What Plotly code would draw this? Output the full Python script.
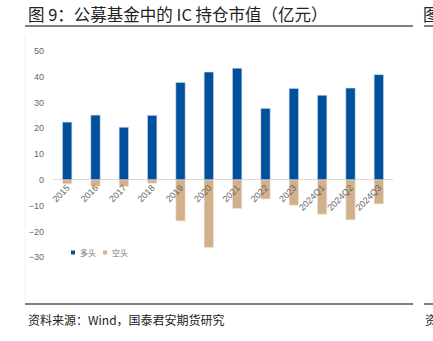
import plotly.graph_objects as go

categories = ["2015", "2016", "2017", "2018", "2019", "2020", "2021",
              "2022", "2023", "2024Q1", "2024Q2", "2024Q3"]
long_vals = [22.4, 25.1, 20.4, 25.0, 37.8, 41.8, 43.3, 27.7, 35.4, 32.8, 35.6, 40.8]
short_vals = [-1.5, -2.5, -2.5, -1.3, -15.9, -26.2, -11.1, -7.4, -9.8, -13.3, -15.5, -9.3]
y_ticks = [50, 40, 30, 20, 10, 0, -10, -20, -30]
series_names = ["多头", "空头"]

BLUE = "#00509D"
TAN = "#D2B08C"
GRAY = "#666666"
CJK = "Noto Sans CJK SC"

y_min, y_max = -45, 55
W, H = 433, 341
ML, MR, MT, MB = 53, 40, 38, 45

fig = go.Figure()
fig.add_trace(go.Bar(x=categories, y=long_vals, name=series_names[0], width=0.33,
                     marker=dict(color=BLUE, line=dict(color="#C9D8EA", width=0.6))))
fig.add_trace(go.Bar(x=categories, y=short_vals, name=series_names[1], width=0.33,
                     marker=dict(color=TAN, line=dict(color="#F1E4D6", width=0.6))))

fig.update_layout(
    width=W, height=H,
    margin=dict(l=ML, r=MR, t=MT, b=MB),
    paper_bgcolor="white", plot_bgcolor="white",
    barmode="relative",
    showlegend=False,
    xaxis=dict(type="category", range=[-0.5, 11.5], anchor="free",
               position=(0 - y_min) / (y_max - y_min),
               tickangle=-45, showgrid=False, showline=False, ticks="",
               tickfont=dict(family="Liberation Sans", size=9, color=GRAY)),
    yaxis=dict(range=[y_min, y_max], tickvals=y_ticks, showgrid=False,
               showline=False, zeroline=True, zerolinecolor="#D9D9D9", zerolinewidth=1,
               ticklabelstandoff=8,
               tickfont=dict(family="Liberation Sans", size=9, color=GRAY)),
)

# helpers: page pixels -> paper coordinates
def px_x(x):
    return (x - ML) / (W - ML - MR)

def px_y(y):
    return (H - MB - y) / (H - MT - MB)

# compact legend: small swatch followed closely by its label
for name, color, sx in zip(series_names, [BLUE, TAN], [73, 105]):
    fig.add_shape(type="rect", xref="paper", yref="paper",
                  x0=px_x(sx - 2), x1=px_x(sx + 2), y0=px_y(250.5), y1=px_y(254.5),
                  fillcolor=color, line=dict(width=0))
    fig.add_annotation(text=name, xref="paper", yref="paper",
                       x=px_x(sx + 5), y=px_y(252.5), xanchor="left", yanchor="middle",
                       showarrow=False, font=dict(family=CJK, size=8, color="#777777"))

fig.add_annotation(text="图 9：公募基金中的 IC 持仓市值（亿元）", xref="paper", yref="paper",
                   x=px_x(26), y=px_y(14), xanchor="left", yanchor="middle",
                   showarrow=False, font=dict(family=CJK, size=16.5, color="#222222"))
fig.add_annotation(text="图", xref="paper", yref="paper",
                   x=px_x(421), y=px_y(14), xanchor="left", yanchor="middle",
                   showarrow=False, font=dict(family=CJK, size=16.5, color="#222222"))
fig.add_annotation(text="资料来源：Wind，国泰君安期货研究", xref="paper", yref="paper",
                   x=px_x(26), y=px_y(319), xanchor="left", yanchor="middle",
                   showarrow=False, font=dict(family=CJK, size=12, color="#222222"))
fig.add_annotation(text="资", xref="paper", yref="paper",
                   x=px_x(423), y=px_y(319), xanchor="left", yanchor="middle",
                   showarrow=False, font=dict(family=CJK, size=12, color="#222222"))

# header / footer rules
for (x0, x1) in [(25, 413), (424, 433)]:
    for yy in (26, 304):
        fig.add_shape(type="line", xref="paper", yref="paper",
                      x0=px_x(x0), x1=px_x(x1), y0=px_y(yy), y1=px_y(yy),
                      line=dict(color="#555555", width=1.5))

# faint frame edge on the left of the chart area
fig.add_shape(type="line", xref="paper", yref="paper",
              x0=px_x(25), x1=px_x(25), y0=px_y(36), y1=px_y(300),
              line=dict(color="#EEF1F5", width=1))

fig.write_html("out.html")
